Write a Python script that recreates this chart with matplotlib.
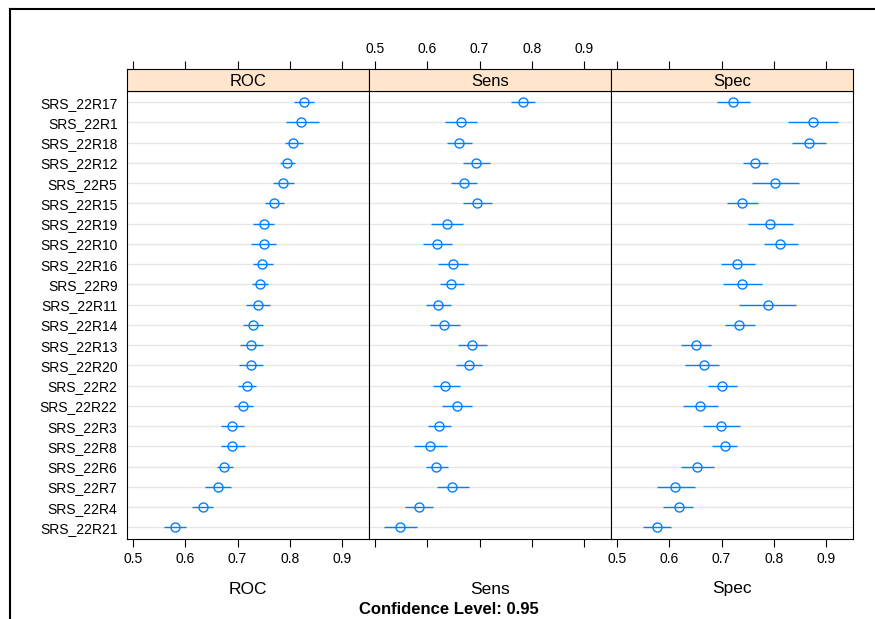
import matplotlib
matplotlib.use('Agg')
import matplotlib.pyplot as plt
from matplotlib.lines import Line2D

plt.rcParams['font.family'] = ['Liberation Sans', 'DejaVu Sans']

models = ['SRS_22R17', 'SRS_22R1', 'SRS_22R18', 'SRS_22R12', 'SRS_22R5', 'SRS_22R15',
          'SRS_22R19', 'SRS_22R10', 'SRS_22R16', 'SRS_22R9', 'SRS_22R11', 'SRS_22R14',
          'SRS_22R13', 'SRS_22R20', 'SRS_22R2', 'SRS_22R22', 'SRS_22R3', 'SRS_22R8',
          'SRS_22R6', 'SRS_22R7', 'SRS_22R4', 'SRS_22R21']

roc = [0.826, 0.822, 0.806, 0.795, 0.787, 0.769, 0.750, 0.750, 0.747, 0.742, 0.740, 0.729,
       0.726, 0.726, 0.718, 0.711, 0.690, 0.690, 0.675, 0.662, 0.634, 0.581]
roc_lo = [0.808, 0.792, 0.790, 0.781, 0.767, 0.752, 0.730, 0.725, 0.729, 0.727, 0.717, 0.711,
          0.704, 0.703, 0.701, 0.694, 0.668, 0.668, 0.660, 0.638, 0.614, 0.560]
roc_hi = [0.845, 0.855, 0.825, 0.810, 0.808, 0.789, 0.770, 0.774, 0.767, 0.758, 0.762, 0.748,
          0.749, 0.749, 0.736, 0.730, 0.713, 0.715, 0.692, 0.687, 0.654, 0.602]

sens = [0.783, 0.664, 0.660, 0.693, 0.670, 0.696, 0.637, 0.619, 0.649, 0.646, 0.621, 0.633,
        0.685, 0.680, 0.635, 0.657, 0.622, 0.606, 0.617, 0.648, 0.584, 0.548]
sens_lo = [0.760, 0.635, 0.637, 0.668, 0.645, 0.668, 0.608, 0.593, 0.621, 0.624, 0.597, 0.605,
           0.658, 0.656, 0.612, 0.628, 0.602, 0.575, 0.597, 0.618, 0.558, 0.518]
sens_hi = [0.805, 0.695, 0.686, 0.720, 0.696, 0.724, 0.668, 0.647, 0.678, 0.670, 0.645, 0.662,
           0.714, 0.705, 0.662, 0.685, 0.645, 0.638, 0.640, 0.680, 0.611, 0.581]

spec = [0.722, 0.874, 0.866, 0.763, 0.802, 0.739, 0.793, 0.812, 0.730, 0.740, 0.788, 0.734,
        0.651, 0.666, 0.701, 0.659, 0.699, 0.706, 0.654, 0.612, 0.618, 0.577]
spec_lo = [0.691, 0.826, 0.835, 0.741, 0.758, 0.710, 0.751, 0.781, 0.699, 0.703, 0.734, 0.707,
           0.623, 0.630, 0.674, 0.627, 0.665, 0.682, 0.622, 0.577, 0.589, 0.551]
spec_hi = [0.755, 0.923, 0.899, 0.788, 0.847, 0.770, 0.837, 0.845, 0.763, 0.778, 0.842, 0.763,
           0.680, 0.695, 0.729, 0.693, 0.736, 0.730, 0.686, 0.649, 0.646, 0.604]

panels = [('ROC', roc, roc_lo, roc_hi),
          ('Sens', sens, sens_lo, sens_hi),
          ('Spec', spec, spec_lo, spec_hi)]
ticks = [0.5, 0.6, 0.7, 0.8, 0.9]

W, H = 875, 619
fig = plt.figure(figsize=(W / 100, H / 100), dpi=100)

def px(x0, y0, x1, y1):
    return [x0 / W, 1 - y1 / H, (x1 - x0) / W, (y1 - y0) / H]

blue = '#0080ff'
pw = 242.0
ypos = list(range(1, len(models) + 1))

for i, (name, val, lo, hi) in enumerate(panels):
    x0 = 127.3 + i * pw
    ax = fig.add_axes(px(x0, 90.7, x0 + pw, 539.3))
    for y in ypos:
        ax.axhline(y, color='#e6e6e6', lw=1, zorder=1)
    ax.hlines(ypos, lo, hi, color=blue, lw=1, zorder=2)
    ax.plot(val, ypos, 'o', mfc='none', mec=blue, ms=6.5, mew=1, zorder=3)
    ax.set_xlim(0.4897, 0.9514)
    ax.set_ylim(len(models) + 0.59, 0.43)
    ax.set_xticks(ticks)
    ax.tick_params(axis='x', direction='out', length=5.5, width=0.8, pad=4,
                   labelsize=10, labelbottom=(i != 1))
    if i == 0:
        ax.set_yticks(ypos)
        ax.set_yticklabels(models)
        ax.tick_params(axis='y', length=0, pad=7, labelsize=10)
    else:
        ax.set_yticks([])
    for s in ax.spines.values():
        s.set_linewidth(0.8)

    st = fig.add_axes(px(x0, 69.3, x0 + pw, 90.7))
    st.set_facecolor('#ffe5cc')
    st.set_xlim(0.4897, 0.9514)
    st.set_ylim(0, 1)
    st.set_xticks(ticks)
    st.set_yticks([])
    st.tick_params(axis='x', top=True, bottom=False, labelbottom=False,
                   labeltop=(i == 1), direction='out', length=5.5, width=0.8,
                   pad=4, labelsize=10)
    for s in st.spines.values():
        s.set_linewidth(0.8)
    st.text(0.5, 0.45, name, ha='center', va='center', fontsize=12,
            transform=st.transAxes)

    fig.text((x0 + pw / 2) / W, 1 - 589 / H, name, ha='center', va='center',
             fontsize=12.5)

fig.text(449 / W, 1 - 610 / H, 'Confidence Level: 0.95', ha='center', va='center',
         fontsize=12, fontweight='bold')

# outer frame (left and top edges visible in the reference)
fig.add_artist(Line2D([10 / W, 10 / W], [0, 1 - 9 / H], color='black', lw=1.5,
                      transform=fig.transFigure))
fig.add_artist(Line2D([10 / W, 1], [1 - 9 / H, 1 - 9 / H], color='black', lw=1.5,
                      transform=fig.transFigure))

fig.savefig('out.png', dpi=100)
